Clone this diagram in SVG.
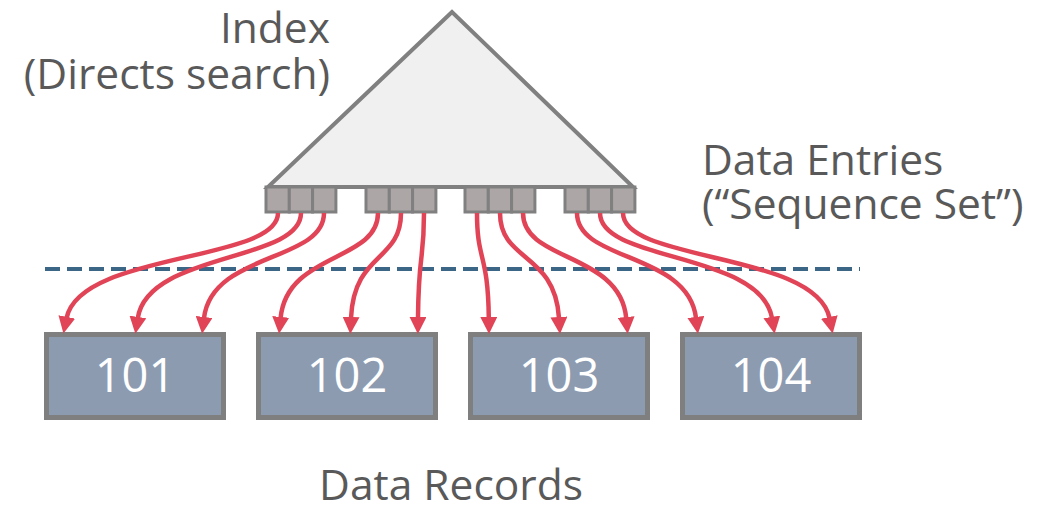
<svg xmlns="http://www.w3.org/2000/svg" width="1040" height="506" viewBox="0 0 1040 506">
<style>
.lbl{font-family:"Open Sans","Noto Sans",sans-serif;font-size:42.5px;fill:#595959}
.num{font-family:"Open Sans","Noto Sans",sans-serif;font-size:47px;fill:#ffffff;text-anchor:middle}
.cell{fill:#aca7a6;stroke:#808080;stroke-width:3}
.rec{fill:#8d9bb0;stroke:#7f7f7f;stroke-width:5}
.arr{fill:none;stroke:#e04456;stroke-width:4.5;marker-end:url(#ah)}
</style>
<defs>
<marker id="ah" markerUnits="userSpaceOnUse" viewBox="0 0 16 16" markerWidth="17" markerHeight="17" refX="1" refY="8" orient="auto">
<path d="M0,0 L16,8 L0,16 z" fill="#e04456"/>
</marker>
</defs>
<g id="index">
<polygon points="452,12 268,187 633,187" fill="#f0f0f0" stroke="#808080" stroke-width="4" stroke-linejoin="miter"/>
<text class="lbl" x="330" y="43" text-anchor="end">Index</text>
<text class="lbl" x="330" y="89" text-anchor="end">(Directs search)</text>
</g>
<g id="entries">
<rect class="cell" x="266" y="187" width="23.3" height="25"/>
<rect class="cell" x="289.3" y="187" width="23.3" height="25"/>
<rect class="cell" x="312.6" y="187" width="23.3" height="25"/>
<rect class="cell" x="366" y="187" width="23.3" height="25"/>
<rect class="cell" x="389.3" y="187" width="23.3" height="25"/>
<rect class="cell" x="412.6" y="187" width="23.3" height="25"/>
<rect class="cell" x="465" y="187" width="23.3" height="25"/>
<rect class="cell" x="488.3" y="187" width="23.3" height="25"/>
<rect class="cell" x="511.6" y="187" width="23.3" height="25"/>
<rect class="cell" x="565" y="187" width="23.3" height="25"/>
<rect class="cell" x="588.3" y="187" width="23.3" height="25"/>
<rect class="cell" x="611.6" y="187" width="23.3" height="25"/>
<text class="lbl" x="702" y="175">Data Entries</text>
<text class="lbl" x="702" y="219">(“Sequence Set”)</text>
</g>
<g id="divider">
<line x1="45" y1="269" x2="860" y2="269" stroke="#3b6685" stroke-width="4" stroke-dasharray="15 7"/>
</g>
<g id="r101"><rect class="rec" x="46.5" y="334.5" width="177" height="83"/><text class="num" x="135" y="392">101</text></g>
<g id="r102"><rect class="rec" x="258.5" y="334.5" width="177" height="83"/><text class="num" x="347" y="392">102</text></g>
<g id="r103"><rect class="rec" x="470.5" y="334.5" width="177" height="83"/><text class="num" x="559" y="392">103</text></g>
<g id="r104"><rect class="rec" x="682.5" y="334.5" width="177" height="83"/><text class="num" x="771" y="392">104</text></g>
<g id="connectors">
<path class="arr" d="M278,213 C278,262 80,252 66.6,318"/>
<path class="arr" d="M301,213 C301,262 148,252 137.8,318"/>
<path class="arr" d="M324,213 C324,262 212,252 204,318"/>
<path class="arr" d="M378,213 C378,262 287,252 280.6,318"/>
<path class="arr" d="M401,213 C401,262 354,252 351,318"/>
<path class="arr" d="M424,213 C424,262 418.5,252 418,318"/>
<path class="arr" d="M477,213 C477,262 488,252 488.8,318"/>
<path class="arr" d="M500,213 C500,262 555,252 559,318"/>
<path class="arr" d="M523,213 C523,262 620,252 626.2,318"/>
<path class="arr" d="M577,213 C577,262 688,252 696,318"/>
<path class="arr" d="M600,213 C600,262 761,252 772,318"/>
<path class="arr" d="M623,213 C623,262 816,252 829.5,318"/>
</g>
<text class="lbl" x="451" y="500" text-anchor="middle">Data Records</text>
</svg>
